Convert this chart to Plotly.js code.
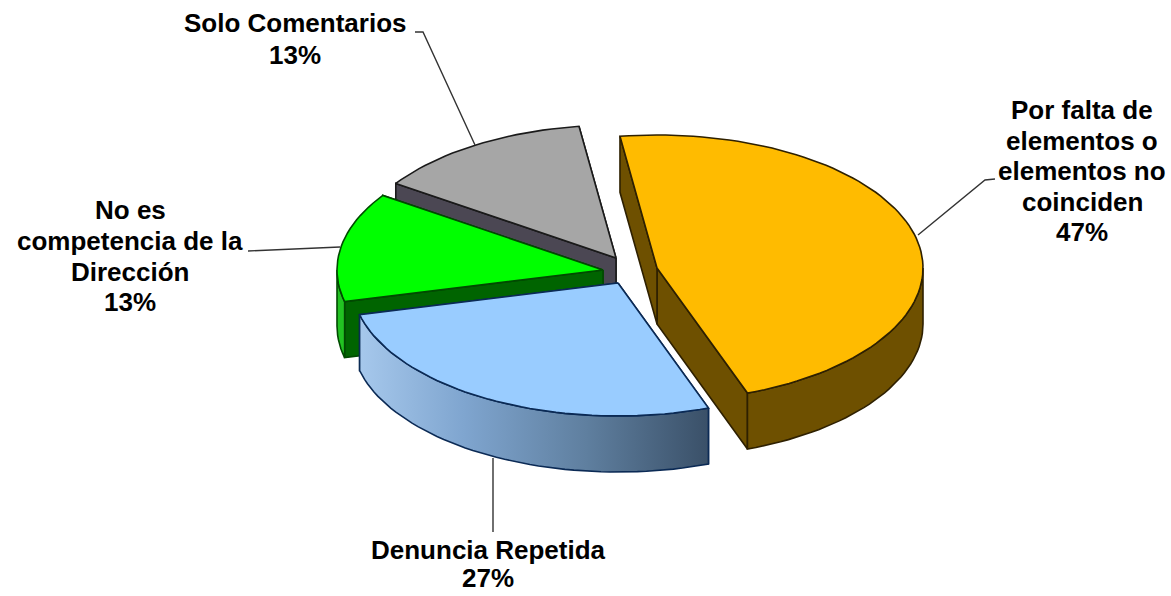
<!DOCTYPE html>
<html>
<head>
<meta charset="utf-8">
<script src="https://cdn.plot.ly/plotly-3.0.1.min.js"></script>
<style>html,body{margin:0;padding:0;background:#fff}#chart{width:1171px;height:596px}</style>
</head>
<body>
<div id="chart"></div>
<script>
// ---- data ----
const categories = ['Por falta de elementos o elementos no coinciden', 'Denuncia Repetida', 'No es competencia de la Dirección', 'Solo Comentarios'];
const values = [46.7, 26.7, 13.3, 13.3];
const labelLines = [
  ['Por falta de', 'elementos o', 'elementos no', 'coinciden'],
  ['Denuncia Repetida'],
  ['No es', 'competencia de la', 'Dirección'],
  ['Solo Comentarios']
];

// ---- styles ----
const topColors  = ['#FFBB00', '#99CCFF', '#00FF00', '#A6A6A6'];
const wallColors = ['#6E5000', '#5F7FA3', '#006400', '#4B4753'];
const arcColors  = ['#6E5000', null, '#22C322', '#4B4753'];
const edgeColors = ['#2E2000', '#0B2A55', '#004A00', '#1A1A1A'];
const blueWallScale = [[0, '#A6C8EC'], [0.3, '#7FA5CF'], [0.65, '#5F7F9F'], [1, '#3A5068']];

// ---- exploded 3-D pie geometry (style constants) ----
const startAngle = -8, radiusX = 266, radiusY = 133, depth = 56;
const sliceCentres = [[657, 268], [618, 283], [603, 270], [616, 258]];
const drawOrder = [3, 2, 0, 1];
const labelCentreX = [1082, 488, 130, 295];
const labelLineY = [[110, 141, 171, 202, 232], [550, 578], [210, 241, 272, 302], [23, 55]];

const leaders = [
  [[995, 179], [985, 180], [918, 235]],
  [[493, 532], [493, 458]],
  [[248, 251], [340, 247]],
  [[415, 32], [423, 32], [475, 145]]
];

const total = values.reduce((a, b) => a + b, 0);
const traces = [];

function rim(c, deg, dz) {
  const r = deg * Math.PI / 180;
  return [c[0] + radiusX * Math.sin(r), c[1] - radiusY * Math.cos(r) + dz];
}
function arc(c, a0, a1, dz) {
  const out = [], n = Math.max(2, Math.ceil(Math.abs(a1 - a0) / 2));
  for (let i = 0; i <= n; i++) out.push(rim(c, a0 + (a1 - a0) * i / n, dz));
  return out;
}
function poly(pts, fillcolor, edge, extra) {
  const closed = pts.concat([pts[0]]);
  traces.push(Object.assign({
    type: 'scatter', mode: 'lines', fill: 'toself',
    x: closed.map(p => p[0]), y: closed.map(p => p[1]),
    fillcolor: fillcolor, line: {color: edge, width: 1.6},
    hoverinfo: 'skip', showlegend: false
  }, extra || {}));
}

// slice angles from the values
const spans = [];
let running = startAngle;
values.forEach(v => { const s = v / total * 360; spans.push([running, running + s]); running += s; });

drawOrder.forEach(i => {
  const c = sliceCentres[i], [a0, a1] = spans[i];
  const p0 = rim(c, a0, 0), p1 = rim(c, a1, 0);
  // radial faces: the closing edge first, so the opening edge lies over it
  [p1, p0].forEach(p => {
    poly([c, p, [p[0], p[1] + depth], [c[0], c[1] + depth]], wallColors[i], edgeColors[i]);
  });
  // outer wall, only the part that faces the viewer
  const w0 = Math.max(a0, 90), w1 = Math.min(a1, 270);
  if (w1 > w0) {
    const pts = arc(c, w0, w1, 0).concat(arc(c, w1, w0, depth));
    const extra = arcColors[i] ? {} : {fillgradient: {type: 'horizontal', colorscale: blueWallScale}};
    poly(pts, arcColors[i] || wallColors[i], edgeColors[i], extra);
  }
  // top face
  poly([c].concat(arc(c, a0, a1, 0)), topColors[i], edgeColors[i]);
});

const annotations = [];
categories.forEach((cat, i) => {
  const lines = labelLines[i].concat([Math.round(values[i]) + '%']);
  lines.forEach((t, j) => annotations.push({
    x: labelCentreX[i], y: labelLineY[i][j], xref: 'x', yref: 'y',
    text: '<b>' + t + '</b>', showarrow: false, xanchor: 'center', yanchor: 'middle',
    font: {family: '"Liberation Sans", Arial, sans-serif', size: 26, color: '#000'}
  }));
});

const shapes = leaders.map(l => ({
  type: 'path', xref: 'x', yref: 'y',
  path: 'M' + l.map(p => p[0] + ',' + p[1]).join('L'),
  line: {color: '#333', width: 1.4}
}));

Plotly.newPlot('chart', traces, {
  width: 1171, height: 596,
  margin: {l: 0, r: 0, t: 0, b: 0},
  paper_bgcolor: '#fff', plot_bgcolor: '#fff',
  xaxis: {range: [0, 1171], visible: false, fixedrange: true},
  yaxis: {range: [596, 0], visible: false, fixedrange: true},
  showlegend: false, annotations: annotations, shapes: shapes
}, {displayModeBar: false, staticPlot: true});
</script>
</body>
</html>
